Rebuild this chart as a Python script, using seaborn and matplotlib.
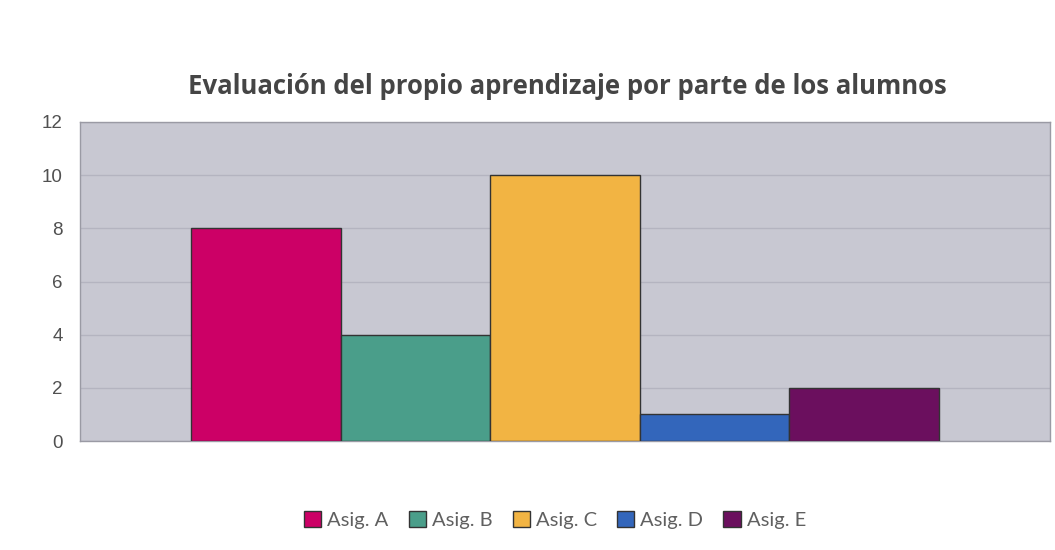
import matplotlib
matplotlib.use("Agg")
import matplotlib.pyplot as plt
import seaborn as sns
import pandas as pd

categories = [""]
series_names = ["Asig. A", "Asig. B", "Asig. C", "Asig. D", "Asig. E"]
values = [8, 4, 10, 1, 2]
colors = ["#CC0066", "#4A9E8A", "#F2B443", "#3366BB", "#6B0F5E"]
yticks = [0, 2, 4, 6, 8, 10, 12]
title = "Evaluación del propio aprendizaje por parte de los alumnos"

sns.set_theme(style="white")
plt.rcParams['font.family'] = ['Liberation Sans', 'DejaVu Sans']

df = pd.DataFrame({"cat": categories * len(series_names), "serie": series_names, "valor": values})

fig = plt.figure(figsize=(10.55, 5.5), dpi=100)
ax = fig.add_axes([80/1055, 1 - 441/550, 970/1055, 319/550])
ax.set_facecolor("#C8C8D2")

sns.barplot(data=df, x="cat", y="valor", hue="serie", hue_order=series_names,
            palette=colors, width=0.771, edgecolor="#333333", linewidth=1.0,
            saturation=1, ax=ax, zorder=3)

ax.set_xlim(-0.5, 0.5)
ax.set_ylim(0, 12)
ax.set_yticks(yticks)
ax.set_yticklabels([str(t) for t in yticks], fontsize=13.5, color="#505050")
ax.set_xticks([])
ax.set_xlabel("")
ax.set_ylabel("")
ax.tick_params(axis="y", length=0, pad=12.5)
ax.grid(axis="y", color="#B4B4C0", linewidth=1, zorder=0)
ax.set_axisbelow(True)
for s in ax.spines.values():
    s.set_color("#9A9AA4")
    s.set_linewidth(1)

fig.text(567/1055, 1 - 86/550, title, ha="center", va="center",
         fontsize=18.5, fontweight="bold", color="#454545", family=["Open Sans", "DejaVu Sans"])

leg = ax.get_legend()
handles = leg.legend_handles
leg.remove()
fig.legend(handles, series_names, loc="center", bbox_to_anchor=(555/1055, 1 - 520/550),
           ncol=5, frameon=False, handlelength=0.85, handleheight=0.85,
           handletextpad=0.3, columnspacing=1.0, prop={"family": ["Lato", "DejaVu Sans"], "size": 14.5},
           labelcolor="#606060")

fig.savefig("out.png", dpi=100, facecolor="white")
